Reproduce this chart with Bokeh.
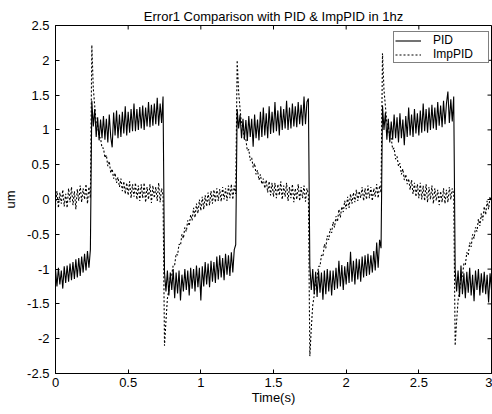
from math import pi

from bokeh.plotting import figure
from bokeh.models import FixedTicker, Range1d, Legend, LegendItem, ColumnDataSource
from bokeh.embed import file_html
from bokeh.resources import INLINE

TITLE = "Error1 Comparison with PID & ImpPID in 1hz"
X_LABEL = "Time(s)"
Y_LABEL = "um"
SERIES_NAMES = ["PID", "ImpPID"]

X_TICKS = [0, 0.5, 1, 1.5, 2, 2.5, 3]
X_TICK_LABELS = ["0", "0.5", "1", "1.5", "2", "2.5", "3"]
Y_TICKS = [-2.5, -2, -1.5, -1, -0.5, 0, 0.5, 1, 1.5, 2, 2.5]
Y_TICK_LABELS = ["-2.5", "-2", "-1.5", "-1", "-0.5", "0", "0.5", "1", "1.5", "2", "2.5"]

T_START = 0.0
T_STEP = 0.01

pid = [
    -1.00, -1.25, -0.98, -1.22, -1.02, -1.28, -0.96, -1.20, -0.95, -1.18,
    -0.92, -1.16, -0.90, -1.14, -0.86, -1.12, -0.84, -1.10, -0.82, -1.05,
    -0.78, -1.02, -0.74, -0.98, -0.72, 1.42, 1.05, 1.30, 0.90, 1.18,
    0.85, 1.15, 0.88, 1.20, 0.86, 1.16, 0.82, 1.22, 0.90, 0.75,
    1.25, 0.92, 1.28, 0.88, 1.22, 0.90, 1.26, 0.95, 1.34, 0.92,
    1.26, 0.96, 1.30, 0.98, 1.38, 0.98, 1.30, 1.00, 1.33, 1.02,
    1.35, 1.00, 1.32, 1.05, 1.40, 1.04, 1.36, 1.06, 1.38, 1.08,
    1.46, 1.06, 1.38, 1.10, 1.48, -1.05, -1.32, -1.02, -1.38, -1.05,
    -1.30, -1.00, -1.42, -1.05, -1.35, -1.02, -1.45, -1.08, -1.32, -1.00,
    -1.30, -1.02, -1.38, -0.98, -1.28, -1.00, -1.32, -0.95, -1.26, -0.98,
    -1.45, -0.96, -1.25, -0.90, -1.22, -0.92, -1.26, -0.88, -1.18, -0.90,
    -1.20, -0.82, -1.15, -0.80, -1.12, -0.84, -1.16, -0.78, -1.08, -0.80,
    -1.10, -0.76, -1.05, -0.72, -0.65, 1.30, 1.02, 1.22, 0.88, 1.16,
    0.86, 1.14, 0.84, 1.20, 0.90, 1.16, 0.76, 1.22, 0.88, 1.15,
    0.85, 1.26, 0.90, 1.32, 0.92, 1.24, 0.88, 1.34, 0.94, 1.26,
    0.96, 1.40, 0.98, 1.28, 0.92, 1.34, 1.00, 1.30, 1.02, 1.42,
    1.00, 1.32, 1.02, 1.38, 1.05, 1.34, 1.04, 1.40, 1.08, 1.36,
    1.06, 1.48, 1.08, 1.40, 1.45, -0.95, -1.30, -1.00, -1.36, -1.04,
    -1.40, -1.02, -1.34, -1.05, -1.44, -1.02, -1.36, -1.00, -1.32, -1.02,
    -1.38, -1.02, -1.30, -0.98, -1.28, -0.88, -1.25, -0.94, -1.30, -0.96,
    -1.22, -0.90, -1.20, -0.75, -1.18, -0.88, -1.22, -0.85, -1.15, -0.86,
    -1.18, -0.82, -1.12, -0.80, -1.10, -0.78, -1.08, -0.80, -1.05, -0.74,
    -1.02, -0.62, -0.98, -0.58, -0.70, 1.35, 1.00, 1.25, 0.86, 1.16,
    0.82, 1.12, 0.86, 1.22, 0.88, 1.18, 0.82, 1.24, 0.88, 1.15,
    0.78, 1.20, 0.90, 1.32, 0.92, 1.22, 0.90, 1.30, 0.95, 1.24,
    0.92, 1.28, 0.96, 1.38, 0.98, 1.30, 0.96, 1.32, 1.00, 1.36,
    1.02, 1.32, 1.00, 1.40, 1.06, 1.35, 1.04, 1.42, 1.08, 1.38,
    1.55, 1.10, 1.44, 1.12, 1.48, -1.00, -1.32, -1.02, -1.40, -0.95,
    -1.36, -1.06, -1.42, -1.04, -1.34, -0.98, -1.38, -1.08, -1.46, -1.02,
    -1.30, -1.00, -1.38, -1.06, -1.34, -1.04, -1.36, -1.08, -1.48, -1.06,
    -1.30,
]

imppid = [
    -0.08, 0.12, -0.12, 0.10, -0.06, 0.14, -0.10, 0.08, -0.12, 0.16,
    -0.04, 0.18, -0.08, 0.12, -0.14, 0.15, -0.02, 0.20, -0.04, 0.16,
    0.00, 0.22, -0.06, 0.18, 0.02, 2.22, 1.60, 1.34, 1.10, 1.06,
    0.90, 0.88, 0.74, 0.74, 0.60, 0.64, 0.48, 0.55, 0.38, 0.44,
    0.30, 0.38, 0.24, 0.32, 0.18, 0.30, 0.12, 0.26, 0.08, 0.24,
    0.06, 0.26, 0.02, 0.22, 0.04, 0.24, 0.00, 0.20, -0.02, 0.22,
    0.02, 0.24, -0.04, 0.18, 0.00, 0.22, -0.05, 0.20, 0.02, 0.18,
    -0.02, 0.24, -0.04, 0.16, 0.06, -2.10, -1.75, -1.42, -1.30, -1.12,
    -1.08, -0.94, -0.94, -0.78, -0.80, -0.64, -0.66, -0.50, -0.56, -0.40,
    -0.46, -0.30, -0.38, -0.22, -0.30, -0.12, -0.26, -0.06, -0.20, 0.00,
    -0.16, 0.04, -0.14, 0.06, -0.10, 0.10, -0.08, 0.12, -0.06, 0.14,
    -0.04, 0.16, -0.02, 0.15, -0.03, 0.18, 0.00, 0.16, -0.02, 0.20,
    0.02, 0.22, 0.00, 0.20, 0.08, 2.00, 1.55, 1.30, 1.08, 1.04,
    0.86, 0.86, 0.70, 0.72, 0.56, 0.60, 0.46, 0.52, 0.36, 0.42,
    0.28, 0.36, 0.22, 0.30, 0.16, 0.28, 0.10, 0.26, 0.06, 0.24,
    0.04, 0.24, 0.02, 0.22, 0.06, 0.26, 0.00, 0.20, 0.04, 0.24,
    -0.02, 0.18, 0.02, 0.22, -0.04, 0.16, 0.00, 0.22, -0.02, 0.18,
    0.02, 0.20, -0.03, 0.16, 0.08, -2.25, -1.85, -1.52, -1.38, -1.16,
    -1.12, -0.96, -0.96, -0.80, -0.82, -0.64, -0.70, -0.52, -0.58, -0.42,
    -0.48, -0.32, -0.40, -0.24, -0.32, -0.14, -0.26, -0.10, -0.18, -0.02,
    -0.14, 0.04, -0.12, 0.08, -0.06, 0.10, -0.04, 0.14, -0.02, 0.12,
    0.02, 0.18, -0.02, 0.16, 0.00, 0.20, 0.02, 0.18, -0.02, 0.16,
    0.04, 0.22, 0.02, 0.20, 0.10, 2.10, 1.58, 1.34, 1.10, 1.06,
    0.88, 0.88, 0.72, 0.74, 0.58, 0.62, 0.48, 0.52, 0.36, 0.44,
    0.28, 0.36, 0.22, 0.30, 0.14, 0.28, 0.08, 0.24, 0.04, 0.22,
    0.02, 0.24, 0.00, 0.20, -0.02, 0.22, -0.04, 0.18, 0.00, 0.20,
    -0.06, 0.16, -0.02, 0.14, -0.08, 0.12, -0.04, 0.16, -0.06, 0.14,
    -0.04, 0.18, 0.00, 0.16, 0.08, -2.10, -1.75, -1.45, -1.32, -1.12,
    -1.10, -0.92, -0.94, -0.76, -0.80, -0.62, -0.68, -0.50, -0.56, -0.40,
    -0.46, -0.28, -0.38, -0.20, -0.30, -0.10, -0.22, -0.02, -0.14, 0.04,
    -0.04,
]

time = [round(T_START + i * T_STEP, 2) for i in range(len(pid))]

FONT = "Liberation Sans"

source = ColumnDataSource(data=dict(t=time, pid=pid, imppid=imppid))

p = figure(
    width=492, height=414,
    output_backend="svg", toolbar_location=None,
    x_range=Range1d(X_TICKS[0], X_TICKS[-1]),
    y_range=Range1d(Y_TICKS[0], Y_TICKS[-1]),
    min_border_left=55, min_border_right=1,
    min_border_top=25, min_border_bottom=41,
    background_fill_color="white", border_fill_color="white",
    outline_line_color="black", outline_line_width=1,
)

p.title.text = TITLE
p.title.align = "center"
p.title.text_font = FONT
p.title.text_font_size = "13px"
p.title.text_font_style = "normal"
p.title.text_color = "black"
p.title.standoff = 4

p.grid.visible = False


def style_axis(ax, ticks, labels, standoff):
    ax.ticker = FixedTicker(ticks=ticks)
    ax.major_tick_in = 4
    ax.major_tick_out = 0
    ax.minor_tick_line_color = None
    ax.axis_line_color = "black"
    ax.major_tick_line_color = "black"
    ax.major_label_overrides = dict(zip(ticks, labels))
    ax.major_label_text_font = FONT
    ax.major_label_text_font_size = "13px"
    ax.major_label_text_color = "black"
    ax.major_label_standoff = standoff
    ax.axis_label_text_font = FONT
    ax.axis_label_text_font_size = "13px"
    ax.axis_label_text_font_style = "normal"
    ax.axis_label_text_color = "black"


xa = p.xaxis[0]
style_axis(xa, X_TICKS, X_TICK_LABELS, 4)
xa.axis_label = X_LABEL
xa.axis_label_standoff = 0

ya = p.yaxis[0]
style_axis(ya, Y_TICKS, Y_TICK_LABELS, 6)
ya.axis_label = Y_LABEL
ya.axis_label_standoff = 6

# inward tick marks on the top and right edges of the box, at the tick values
p.ray(x=X_TICKS, y=[Y_TICKS[-1]] * len(X_TICKS), length=4, length_units="screen",
      angle=-pi / 2, line_color="black", line_width=1)
p.ray(x=[X_TICKS[-1]] * len(Y_TICKS), y=Y_TICKS, length=4, length_units="screen",
      angle=pi, line_color="black", line_width=1)

r_pid = p.line("t", "pid", source=source, line_color="black", line_width=1.1)
r_imp = p.line("t", "imppid", source=source, line_color="black", line_width=1.1,
               line_dash="2 2")

legend = Legend(
    items=[LegendItem(label=SERIES_NAMES[0], renderers=[r_pid]),
           LegendItem(label=SERIES_NAMES[1], renderers=[r_imp])],
    location=(338, 310),
    padding=1, spacing=0, margin=0,
    glyph_width=26, glyph_height=13, label_height=13,
    label_standoff=12, label_width=54,
    label_text_font=FONT, label_text_font_size="12px",
    label_text_color="black",
    border_line_color="black", border_line_width=1,
    background_fill_color="white", background_fill_alpha=1.0,
)
p.add_layout(legend)

open("out.html", "w").write(file_html(p, INLINE))
